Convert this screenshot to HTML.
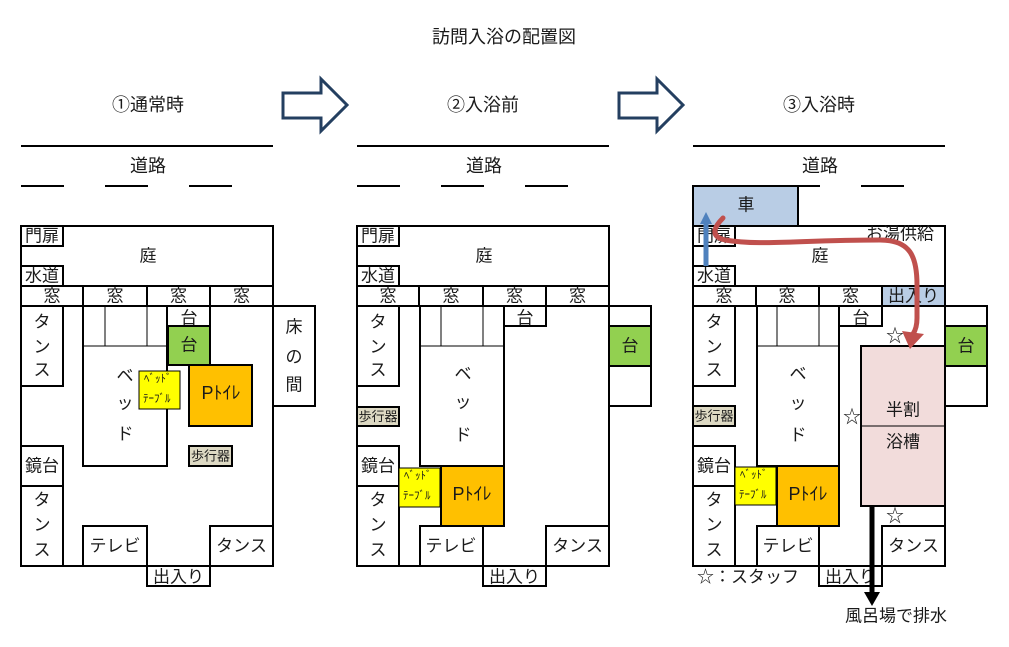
<!DOCTYPE html>
<html><head><meta charset="utf-8"><style>
html,body{margin:0;padding:0;background:#fff;}
svg{display:block;}
text{font-family:"Liberation Sans","Noto Sans CJK JP",sans-serif;fill:#1a1a1a;text-anchor:middle;dominant-baseline:central;}
.f{font-size:17px;}
.t{font-size:18px;}
.s{font-size:13px;}
.xs{font-size:11px;text-anchor:start;}
.w{fill:none;stroke:#000;stroke-width:2;}
.thin{fill:none;stroke:#000;stroke-width:1;}
</style></head><body>
<svg width="1009" height="647" viewBox="0 0 1009 647" xmlns="http://www.w3.org/2000/svg">
<rect width="1009" height="647" fill="#fff"/>
<text class="t" x="504" y="37">訪問入浴の配置図</text>

<!-- block arrows -->
<polygon points="283,93 321,93 321,79 347,105 321,131 321,118 283,118" fill="#fff" stroke="#243f60" stroke-width="3"/>
<polygon points="619,93 657,93 657,79 683,105 657,131 657,118 619,118" fill="#fff" stroke="#243f60" stroke-width="3"/>

<!-- ===== PANEL 1 ===== -->
<g>
<text class="t" x="148" y="105">①通常時</text>
<line x1="21" y1="146" x2="273" y2="146" stroke="#000" stroke-width="2"/>
<text class="t" x="148" y="166">道路</text>
<line x1="21" y1="186" x2="64" y2="186" stroke="#000" stroke-width="2"/>
<line x1="105" y1="186" x2="148" y2="186" stroke="#000" stroke-width="2"/>
<line x1="189" y1="186" x2="232" y2="186" stroke="#000" stroke-width="2"/>
<rect class="w" x="21" y="226" width="252" height="60"/>
<rect class="w" x="21" y="226" width="42" height="20"/>
<rect class="w" x="21" y="266" width="42" height="20"/>
<text class="f" x="42" y="236">門扉</text>
<text class="f" x="42" y="276">水道</text>
<text class="f" x="148" y="256">庭</text>
<rect class="w" x="21" y="286" width="252" height="20"/>
<line class="w" x1="83" y1="286" x2="83" y2="306"/>
<line class="w" x1="147" y1="286" x2="147" y2="306"/>
<line class="w" x1="210" y1="286" x2="210" y2="306"/>
<text class="f" x="52" y="296">窓</text>
<text class="f" x="115" y="296">窓</text>
<text class="f" x="178.5" y="296">窓</text>
<text class="f" x="241.5" y="296">窓</text>
<path class="w" d="M21 306 V566 H273 V306"/>
<rect class="w" x="21" y="306" width="42" height="80"/>
<text class="f" x="42" y="322">タ</text><text class="f" x="42" y="347">ン</text><text class="f" x="42" y="370">ス</text>
<rect class="w" x="21" y="446" width="42" height="40"/>
<text class="f" x="42" y="466">鏡台</text>
<rect class="w" x="21" y="486" width="42" height="80"/>
<text class="f" x="42" y="500">タ</text><text class="f" x="42" y="525">ン</text><text class="f" x="42" y="550">ス</text>
<rect class="w" x="83" y="306" width="84" height="160"/>
<line class="thin" x1="105" y1="306" x2="105" y2="346"/>
<line class="thin" x1="147" y1="306" x2="147" y2="346"/>
<line class="thin" x1="83" y1="346" x2="167" y2="346"/>
<text class="f" x="125" y="376">ベ</text><text class="f" x="125" y="403">ッ</text><text class="f" x="125" y="434">ド</text>
<rect class="w" x="167" y="306" width="43" height="20"/>
<text class="f" x="189" y="318">台</text>
<rect x="168" y="326" width="42" height="39" fill="#92d050" stroke="#000" stroke-width="2"/>
<text class="f" x="189" y="345">台</text>
<rect class="w" x="273" y="306" width="42" height="100"/>
<text class="f" x="294" y="327">床</text><text class="f" x="294" y="357">の</text><text class="f" x="294" y="385">間</text>
<rect x="189" y="365" width="63" height="61" fill="#ffc000" stroke="#000" stroke-width="2"/>
<text class="t" x="221" y="393">Pﾄｲﾚ</text>
<rect x="139" y="371" width="41" height="38" fill="#ffff00" stroke="#000" stroke-width="1"/>
<text class="xs" x="144" y="379">ﾍﾞｯﾄﾞ</text>
<text class="xs" x="143" y="399">ﾃｰﾌﾞﾙ</text>
<rect x="189" y="446" width="43" height="20" fill="#ddd9c3" stroke="#000" stroke-width="2"/>
<text class="s" x="210.5" y="456">歩行器</text>
<rect class="w" x="83" y="526" width="64" height="40"/>
<text class="f" x="115" y="546">テレビ</text>
<rect class="w" x="210" y="526" width="63" height="40"/>
<text class="f" x="241.5" y="546">タンス</text>
<rect class="w" x="147" y="566" width="63" height="20"/>
<text class="f" x="178.5" y="577">出入り</text>
</g>

<!-- ===== PANEL 2 ===== -->
<g transform="translate(336,0)">
<text class="t" x="147" y="105">②入浴前</text>
<line x1="21" y1="146" x2="273" y2="146" stroke="#000" stroke-width="2"/>
<text class="t" x="148" y="166">道路</text>
<line x1="21" y1="186" x2="64" y2="186" stroke="#000" stroke-width="2"/>
<line x1="105" y1="186" x2="148" y2="186" stroke="#000" stroke-width="2"/>
<line x1="189" y1="186" x2="232" y2="186" stroke="#000" stroke-width="2"/>
<rect class="w" x="21" y="226" width="252" height="60"/>
<rect class="w" x="21" y="226" width="42" height="20"/>
<rect class="w" x="21" y="266" width="42" height="20"/>
<text class="f" x="42" y="236">門扉</text>
<text class="f" x="42" y="276">水道</text>
<text class="f" x="148" y="256">庭</text>
<rect class="w" x="21" y="286" width="252" height="20"/>
<line class="w" x1="83" y1="286" x2="83" y2="306"/>
<line class="w" x1="147" y1="286" x2="147" y2="306"/>
<line class="w" x1="210" y1="286" x2="210" y2="306"/>
<text class="f" x="52" y="296">窓</text>
<text class="f" x="115" y="296">窓</text>
<text class="f" x="178.5" y="296">窓</text>
<text class="f" x="241.5" y="296">窓</text>
<path class="w" d="M21 306 V566 H273 V306"/>
<rect class="w" x="21" y="306" width="42" height="80"/>
<text class="f" x="42" y="322">タ</text><text class="f" x="42" y="347">ン</text><text class="f" x="42" y="370">ス</text>
<rect x="21" y="407" width="42" height="19" fill="#ddd9c3" stroke="#000" stroke-width="2"/>
<text class="s" x="42" y="416.5">歩行器</text>
<rect class="w" x="21" y="446" width="42" height="40"/>
<text class="f" x="42" y="466">鏡台</text>
<rect class="w" x="21" y="486" width="42" height="80"/>
<text class="f" x="42" y="500">タ</text><text class="f" x="42" y="525">ン</text><text class="f" x="42" y="550">ス</text>
<rect class="w" x="84" y="306" width="84" height="160"/>
<line class="thin" x1="105" y1="306" x2="105" y2="346"/>
<line class="thin" x1="147" y1="306" x2="147" y2="346"/>
<line class="thin" x1="84" y1="346" x2="168" y2="346"/>
<text class="f" x="127" y="374">ベ</text><text class="f" x="127" y="402">ッ</text><text class="f" x="127" y="435">ド</text>
<rect class="w" x="168" y="306" width="42" height="20"/>
<text class="f" x="189" y="318">台</text>
<rect class="w" x="273" y="306" width="42" height="100"/>
<rect x="273" y="326" width="42" height="40" fill="#92d050" stroke="#000" stroke-width="2"/>
<text class="f" x="294" y="346">台</text>
<rect x="105" y="466" width="63" height="60" fill="#ffc000" stroke="#000" stroke-width="2"/>
<text class="t" x="136" y="494">Pﾄｲﾚ</text>
<rect x="63" y="468" width="41" height="39" fill="#ffff00" stroke="#000" stroke-width="1"/>
<text class="xs" x="68" y="476">ﾍﾞｯﾄﾞ</text>
<text class="xs" x="67" y="496">ﾃｰﾌﾞﾙ</text>
<rect class="w" x="84" y="526" width="63" height="40"/>
<text class="f" x="115" y="546">テレビ</text>
<rect class="w" x="210" y="526" width="63" height="40"/>
<text class="f" x="241.5" y="546">タンス</text>
<rect class="w" x="147" y="566" width="63" height="20"/>
<text class="f" x="178.5" y="577">出入り</text>
</g>

<!-- ===== PANEL 3 ===== -->
<g transform="translate(672,0)">
<text class="t" x="147" y="105">③入浴時</text>
<line x1="21" y1="146" x2="273" y2="146" stroke="#000" stroke-width="2"/>
<text class="t" x="148" y="166">道路</text>
<line x1="105" y1="186" x2="148" y2="186" stroke="#000" stroke-width="2"/>
<line x1="189" y1="186" x2="232" y2="186" stroke="#000" stroke-width="2"/>
<rect x="21" y="186" width="105" height="40" fill="#b9cde5" stroke="#000" stroke-width="2"/>
<text class="f" x="74" y="205">車</text>
<rect class="w" x="21" y="226" width="252" height="60"/>
<rect class="w" x="21" y="226" width="42" height="20"/>
<rect class="w" x="21" y="266" width="42" height="20"/>
<text class="f" x="42" y="236">門扉</text>
<text class="f" x="42" y="276">水道</text>
<text class="f" x="148" y="256">庭</text>
<text class="f" x="228" y="234">お湯供給</text>
<rect x="210" y="286" width="63" height="20" fill="#b9cde5"/>
<rect class="w" x="21" y="286" width="252" height="20"/>
<line class="w" x1="84" y1="286" x2="84" y2="306"/>
<line class="w" x1="147" y1="286" x2="147" y2="306"/>
<line class="w" x1="210" y1="286" x2="210" y2="306"/>
<text class="f" x="52" y="296">窓</text>
<text class="f" x="115" y="296">窓</text>
<text class="f" x="178.5" y="296">窓</text>
<text class="f" x="241.5" y="296">出入り</text>
<path class="w" d="M21 306 V566 H273 V306"/>
<rect class="w" x="21" y="306" width="42" height="80"/>
<text class="f" x="42" y="322">タ</text><text class="f" x="42" y="347">ン</text><text class="f" x="42" y="370">ス</text>
<rect x="21" y="406" width="42" height="20" fill="#ddd9c3" stroke="#000" stroke-width="2"/>
<text class="s" x="42" y="416">歩行器</text>
<rect class="w" x="21" y="446" width="42" height="40"/>
<text class="f" x="42" y="466">鏡台</text>
<rect class="w" x="21" y="486" width="42" height="80"/>
<text class="f" x="42" y="500">タ</text><text class="f" x="42" y="525">ン</text><text class="f" x="42" y="550">ス</text>
<rect class="w" x="85" y="306" width="82" height="160"/>
<line class="thin" x1="105" y1="306" x2="105" y2="346"/>
<line class="thin" x1="147" y1="306" x2="147" y2="346"/>
<line class="thin" x1="85" y1="346" x2="167" y2="346"/>
<text class="f" x="126" y="374">ベ</text><text class="f" x="126" y="403">ッ</text><text class="f" x="126" y="435">ド</text>
<rect class="w" x="167" y="306" width="43" height="20"/>
<text class="f" x="189" y="318">台</text>
<rect class="w" x="273" y="306" width="42" height="100"/>
<rect x="273" y="326" width="42" height="40" fill="#92d050" stroke="#000" stroke-width="2"/>
<text class="f" x="294" y="346">台</text>
<rect x="189" y="346" width="84" height="160" fill="#f2dcdb" stroke="#000" stroke-width="2"/>
<line class="thin" x1="189" y1="426" x2="273" y2="426"/>
<text class="f" x="231" y="410">半割</text>
<text class="f" x="231" y="442">浴槽</text>
<rect x="105" y="466" width="62" height="60" fill="#ffc000" stroke="#000" stroke-width="2"/>
<text class="t" x="136" y="494">Pﾄｲﾚ</text>
<rect x="63" y="467" width="41" height="38" fill="#ffff00" stroke="#000" stroke-width="1"/>
<text class="xs" x="68" y="475">ﾍﾞｯﾄﾞ</text>
<text class="xs" x="67" y="495">ﾃｰﾌﾞﾙ</text>
<rect class="w" x="85" y="526" width="62" height="40"/>
<text class="f" x="116" y="546">テレビ</text>
<rect class="w" x="210" y="526" width="63" height="40"/>
<text class="f" x="241.5" y="546">タンス</text>
<rect class="w" x="147" y="566" width="63" height="20"/>
<text class="f" x="178.5" y="577">出入り</text>
<text class="t" x="223" y="336" fill="#444">☆</text>
<text class="t" x="180" y="417" fill="#444">☆</text>
<text class="t" x="223" y="516" fill="#444">☆</text>
<text class="f" x="25" y="577" style="text-anchor:start">☆：スタッフ</text>
<text class="f" x="173" y="616" style="text-anchor:start">風呂場で排水</text>
<!-- drain arrow -->
<rect x="197.5" y="506" width="5" height="87" fill="#000"/>
<polygon points="192,592 208,592 200,606" fill="#000"/>
<!-- blue arrow -->
<rect x="31.5" y="222" width="5" height="44" fill="#4f81bd"/>
<polygon points="28,224 40,224 34,212" fill="#4f81bd"/>
<!-- red arrow -->
<path d="M51 218 C44 225 36 236 53 240 C88 246 128 240 208 240 C238 240 245 256 245 285 L245 318 Q245 328 241 334" fill="none" stroke="#c0504d" stroke-width="5" stroke-linecap="round"/>
<polygon points="230,331 252,334 238,349" fill="#c0504d"/>
</g>
</svg>
</body></html>
